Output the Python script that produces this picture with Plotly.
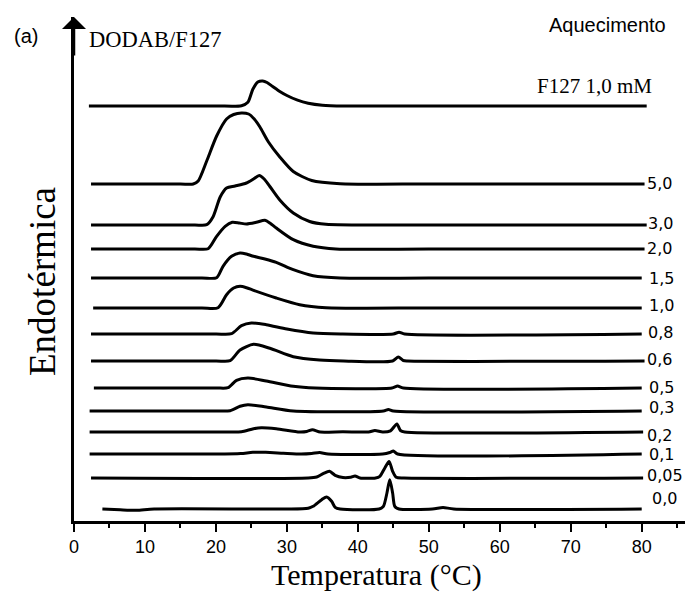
import plotly.graph_objects as go

# ---------------- data ----------------
labels = ["F127 1,0 mM", "5,0", "3,0", "2,0", "1,5", "1,0", "0,8", "0,6",
          "0,5", "0,3", "0,2", "0,1", "0,05", "0,0"]
# vertical stacking offset of each thermogram (arbitrary units)
offsets = [415, 337, 296, 272, 243, 213, 187, 160, 133, 110, 89, 67, 43, 12]

T_f127 = [2.1, 20, 23.6, 24.5, 25.2, 25.9, 26.6, 27.2, 28.0, 29.0, 30.0, 31.5, 33.0, 35.0, 38.0, 50, 80.7]
h_f127 = [0, 0, 0.3, 3.7, 16.7, 24, 25, 23.5, 19.5, 14.5, 10.5, 5.8, 2.8, 0.8, 0, 0, 0]

T_50 = [2.4, 15, 16.8, 17.5, 18.7, 20.1, 21.5, 22.5, 23.6, 24.6, 25.4, 26.2, 27.4, 29.0, 30.9, 33.5, 37.5, 50, 80.4]
h_50 = [0, 0, 0, 3, 23, 48, 65, 69.5, 71, 70, 65, 57, 42, 27, 12.5, 3.5, 0.3, 0, 0]

T_30 = [2.4, 17, 18.7, 19.6, 20.6, 21.5, 22.7, 24.3, 25.3, 26.1, 26.8, 27.6, 29.0, 30.9, 33.2, 35.5, 50, 80.7]
h_30 = [0, 0, 0.3, 8.3, 28, 37, 39, 42, 46, 49.5, 46, 38.5, 25, 12, 3.5, 0.7, 0, 0]

T_20 = [2.4, 17, 18.9, 20.1, 21.3, 22.3, 23.3, 24.3, 25.7, 26.9, 27.6, 28.5, 30.9, 33.7, 36.9, 50, 80.4]
h_20 = [0, 0, 0.3, 12.7, 22.7, 26.7, 26, 25, 26.7, 28.7, 26, 21, 9.3, 2.7, 0, 0, 0]

T_15 = [2.4, 18, 20.1, 21.0, 22.2, 23.4, 24.3, 25.3, 26.9, 28.5, 30.9, 33.7, 37.5, 50, 80.0]
h_15 = [0, 0, 0.3, 11.7, 21.7, 25, 24, 21.7, 19, 15.7, 8.3, 2.3, 0, 0, 0]

T_10 = [2.7, 18, 20.3, 21.5, 22.5, 23.4, 24.3, 25.3, 28.5, 31.8, 35.5, 50, 80.0]
h_10 = [0, 0, 0.3, 13.3, 20, 21.7, 20.3, 17.7, 10, 3.3, 0.3, 0, 0]

T_08 = [2.4, 20, 22.2, 23.6, 25.0, 27.1, 30.0, 33.7, 37.6, 45.0, 45.8, 46.6, 80.0]
h_08 = [0, 0, 0.3, 8.3, 11, 9.3, 5, 1, 0, 0, 1.8, 0, 0]

T_06 = [2.4, 20, 22.0, 23.4, 25.3, 27.6, 30.9, 34.6, 38, 44.9, 45.7, 46.4, 47, 80.4]
h_06 = [0, 0, 0.3, 11, 16.7, 12.7, 4.3, 1, 0, 0, 4, 0.5, 0, 0]

T_05 = [2.8, 20, 21.7, 22.9, 24.5, 27.1, 30.9, 34, 44.8, 45.6, 46.4, 80.0]
h_05 = [0, 0, 0.3, 7.7, 10, 7, 1.7, 0, 0, 2, 0, 0]

T_03 = [2.2, 20, 22.0, 23.4, 24.5, 27.1, 30.9, 43.6, 44.3, 45, 80.0]
h_03 = [0, 0, 0.3, 4.7, 6.3, 4, 0, 0, 1.5, 0, 0]

T_02 = [2.2, 22, 23.6, 25.3, 26.4, 28.5, 31.8, 32.8, 33.6, 34.7, 37.9, 41.5, 42.4, 43.5, 44.6, 45.5, 46.0, 46.6, 80.2]
h_02 = [0, 0, 0.3, 3.3, 4.3, 3.3, 0, 0.5, 2.3, 0, 0.3, 0, 1.5, 0, 1.2, 8, 1.5, 0, 0]

T_01 = [2.2, 20, 23.5, 25.2, 27, 29.5, 32, 33.5, 34.6, 35.8, 43.5, 44.5, 45.0, 45.6, 80.0]
h_01 = [0, 0, 0.5, 1.7, 1.7, 0.8, 0, 0.5, 1.5, 0, 0, 1.5, 3, 0, 0]

T_005 = [2.4, 33, 34.2, 35.1, 36.0, 36.8, 37.9, 39.0, 39.6, 40.3, 42.5, 43.1, 43.8, 44.4, 44.9, 45.4, 46.5, 80.2]
h_005 = [0, 0, 1, 4.3, 6.7, 2.7, 0.5, 0.8, 2, 0, 0, 1.7, 10, 16.6, 6.7, 0.7, 0, 0]

T_00 = [4.0, 6.5, 8.8, 11.3, 30, 33, 33.7, 34.9, 35.6, 36.3, 36.8, 37.5, 43.0, 43.6, 44.1, 44.5,
        44.9, 45.2, 45.8, 50.5, 52.0, 53.5, 80.0]
h_00 = [0, -0.8, -1.3, 0, 0, 0.8, 2.7, 9.3, 12, 7.7, 1.7, 0, 0, 2.7, 16, 29.3,
        16, 2.7, 0, 0, 1.5, 0, 0]

x_ticks = [0, 10, 20, 30, 40, 50, 60, 70, 80]

curves = [(T_f127, h_f127), (T_50, h_50), (T_30, h_30), (T_20, h_20), (T_15, h_15),
          (T_10, h_10), (T_08, h_08), (T_06, h_06), (T_05, h_05), (T_03, h_03),
          (T_02, h_02), (T_01, h_01), (T_005, h_005), (T_00, h_00)]

# ---------------- layout geometry ----------------
W, H = 685, 592
ML, MR, MT, MB = 74, 0, 17, 71
PW, PH = W - ML - MR, H - MT - MB
XMAX = 86.1
YMAX = PH


def px_x(px):
    return (px - ML) / PW


def px_y(py):
    return (H - MB - py) / PH


fig = go.Figure()
for (T, h), off in zip(curves, offsets):
    fig.add_trace(go.Scatter(
        x=T, y=[v + off for v in h], mode="lines",
        line=dict(color="black", width=3, shape="spline", smoothing=0.7),
        hoverinfo="skip", showlegend=False))

ann = []
# concentration labels at the right end of the curves
label_dy = [None, 1, 2, 1, 0, 3, 2, 2, 1, 4, -3, 0, 3, 11]
label_px = [None, 645, 646, 645, 647, 647, 646, 645, 647, 647, 645, 647, 645, 650]
for i in range(1, len(labels)):
    ann.append(dict(x=px_x(label_px[i]), xref="paper", y=offsets[i] + label_dy[i], yref="y",
                    text=labels[i], showarrow=False, xanchor="left", yanchor="middle",
                    font=dict(family="DejaVu Sans", size=16, color="black")))

ann += [
    dict(x=px_x(594), xref="paper", y=px_y(86), yref="paper", text=labels[0], showarrow=False,
         xanchor="center", yanchor="middle",
         font=dict(family="Liberation Serif", size=21, color="black")),
    dict(x=px_x(87), xref="paper", y=px_y(40), yref="paper", text="DODAB/F127", showarrow=False,
         xanchor="left", yanchor="middle",
         font=dict(family="Liberation Serif", size=22.5, color="black")),
    dict(x=px_x(26), xref="paper", y=px_y(36), yref="paper", text="(a)", showarrow=False,
         xanchor="center", yanchor="middle",
         font=dict(family="Liberation Sans", size=20, color="black")),
    dict(x=px_x(607), xref="paper", y=px_y(25), yref="paper", text="Aquecimento", showarrow=False,
         xanchor="center", yanchor="middle",
         font=dict(family="Liberation Sans", size=20, color="black")),
    dict(x=px_x(42), xref="paper", y=px_y(282), yref="paper", text="Endotérmica", showarrow=False,
         xanchor="center", yanchor="middle", textangle=-90,
         font=dict(family="Liberation Serif", size=37, color="black")),
    dict(x=px_x(376), xref="paper", y=px_y(575), yref="paper", text="Temperatura (°C)",
         showarrow=False, xanchor="center", yanchor="middle",
         font=dict(family="Liberation Serif", size=30, color="black")),
    # arrow at the top of the vertical axis
    dict(x=0, xref="x", y=YMAX, yref="y", ax=0, ay=40, axref="pixel", ayref="pixel",
         text="", showarrow=True, arrowhead=1, arrowsize=1.6, arrowwidth=2.5,
         arrowcolor="black", standoff=0),
]

fig.update_layout(
    width=W, height=H,
    margin=dict(l=ML, r=MR, t=MT, b=MB, pad=0),
    paper_bgcolor="white", plot_bgcolor="white",
    showlegend=False,
    annotations=ann,
    xaxis=dict(range=[0, XMAX], showline=True, linecolor="black", linewidth=2.5,
               ticks="outside", ticklen=8, tickwidth=2, tickcolor="black",
               tickvals=x_ticks, ticktext=[str(v) for v in x_ticks],
               tickfont=dict(family="Liberation Sans", size=18, color="black"),
               showgrid=False, zeroline=False,
               minor=dict(dtick=5, tick0=0, ticks="outside", ticklen=4, tickwidth=2,
                          tickcolor="black", showgrid=False)),
    yaxis=dict(range=[0, YMAX], showline=True, linecolor="black", linewidth=2.5,
               ticks="", showticklabels=False, showgrid=False, zeroline=False),
)

fig.write_html("out.html")
